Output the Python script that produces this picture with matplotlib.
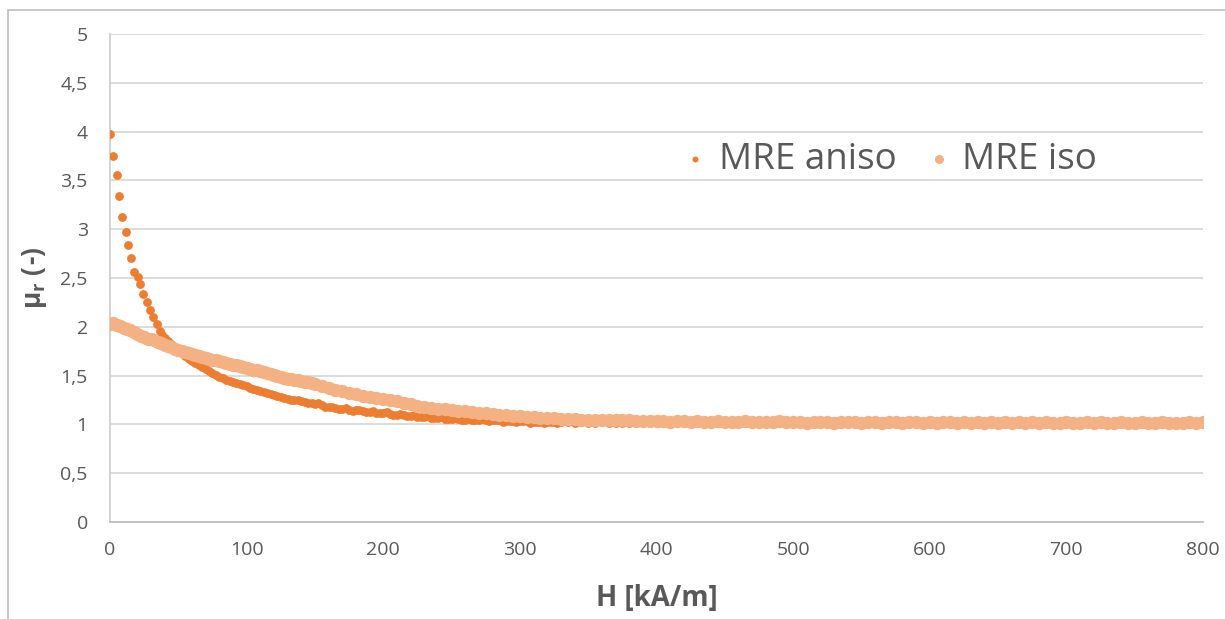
import numpy as np
import matplotlib.pyplot as plt
from matplotlib.patches import Rectangle
from matplotlib.ticker import FuncFormatter

plt.rcParams['font.family'] = ['Open Sans', 'DejaVu Sans']
plt.rcParams['mathtext.fontset'] = 'custom'
plt.rcParams['mathtext.rm'] = 'Open Sans'
plt.rcParams['mathtext.bf'] = 'Open Sans:bold'

# steep start of the anisotropic sample, points still separated
H_ANISO_START = [0, 2.4, 4.9, 6.8, 9.0, 11.5, 13.4, 15.6, 17.8, 20.2, 22.0,
                 24.4, 26.9, 29.3, 31.7, 34.1, 36.5, 38.3]
MU_ANISO_START = [3.98, 3.75, 3.56, 3.34, 3.13, 2.97, 2.84, 2.71, 2.56, 2.51, 2.44,
                  2.34, 2.25, 2.17, 2.10, 2.03, 1.96, 1.92]

# extra anisotropic readings between the sweep steps (knee region)
H_ANISO_EXTRA = [152.5, 157.5, 162.5, 167.5, 172.5, 177.5, 182.5, 187.5, 192.5, 197.5,
                 202.5, 207.5, 212.5, 217.5, 222.5, 227.5, 232.5, 237.5, 242.5, 247.5,
                 252.5, 257.5, 262.5, 267.5, 272.5, 277.5, 282.5, 287.5, 292.5, 297.5,
                 302.5, 307.5, 312.5, 317.5, 322.5, 327.5]
MU_ANISO_EXTRA = [1.218, 1.182, 1.183, 1.157, 1.163, 1.142, 1.148, 1.127, 1.133, 1.112,
                  1.123, 1.097, 1.108, 1.087, 1.093, 1.072, 1.083, 1.062, 1.073, 1.052,
                  1.068, 1.047, 1.058, 1.042, 1.053, 1.032, 1.048, 1.027, 1.038, 1.022,
                  1.038, 1.017, 1.028, 1.012, 1.028, 1.012]

# start of the isotropic sample
H_ISO_START = [0, 2.5, 5, 7.5, 10, 12.5, 15, 17.5, 20, 22.5, 25, 27.5, 30, 32.5, 35, 37.5]
MU_ISO_START = [2.03, 2.04, 2.02, 2.01, 1.99, 1.98, 1.97, 1.95, 1.93, 1.91, 1.90,
                1.88, 1.87, 1.86, 1.84, 1.83]

# common field sweep for both samples
H_SWEEP = [40, 42.5, 45, 47.5, 50, 52.5, 55, 57.5, 60, 62.5, 65, 67.5, 70, 72.5, 75,
           77.5, 80, 82.5, 85, 87.5, 90, 92.5, 95, 97.5, 100, 102.5, 105, 107.5, 110,
           112.5, 115, 117.5, 120, 122.5, 125, 127.5, 130, 132.5, 135, 137.5, 140,
           142.5, 145, 147.5,
           150, 155, 160, 165, 170, 175, 180, 185, 190, 195, 200, 205, 210, 215, 220,
           225, 230, 235, 240, 245, 250, 255, 260, 265, 270, 275, 280, 285, 290, 295,
           300, 305, 310, 315, 320, 325, 330, 335, 340, 345, 350, 355, 360, 365, 370,
           375, 380, 385, 390, 395, 400, 405, 410, 415, 420, 425, 430, 435, 440, 445,
           450, 455, 460, 465, 470, 475, 480, 485, 490, 495, 500, 505, 510, 515, 520,
           525, 530, 535, 540, 545, 550, 555, 560, 565, 570, 575, 580, 585, 590, 595,
           600, 605, 610, 615, 620, 625, 630, 635, 640, 645, 650, 655, 660, 665, 670,
           675, 680, 685, 690, 695, 700, 705, 710, 715, 720, 725, 730, 735, 740, 745,
           750, 755, 760, 765, 770, 775, 780, 785, 790, 795, 800]

MU_ANISO_SWEEP = [1.89, 1.85, 1.82, 1.79, 1.76, 1.73, 1.70, 1.67, 1.65, 1.63, 1.61, 1.59,
                  1.57, 1.55, 1.53, 1.51, 1.49, 1.475, 1.46, 1.445, 1.43, 1.42, 1.41, 1.40,
                  1.39, 1.375, 1.36, 1.35, 1.34, 1.33, 1.32, 1.31, 1.30, 1.29, 1.28, 1.27,
                  1.26, 1.255, 1.25, 1.245, 1.24, 1.23, 1.22, 1.215,
                  1.21, 1.20,
                  1.18, 1.17, 1.16, 1.15, 1.15, 1.14, 1.13, 1.12, 1.12, 1.11, 1.10, 1.10,
                  1.09, 1.08, 1.08, 1.07, 1.07, 1.06, 1.06, 1.06, 1.05, 1.05, 1.05, 1.04,
                  1.04, 1.04, 1.03, 1.03, 1.03, 1.03, 1.02, 1.025, 1.02, 1.02, 1.02, 1.02,
                  1.015, 1.02, 1.015, 1.015, 1.02, 1.015, 1.01, 1.015, 1.01, 1.015, 1.015, 1.01,
                  1.015, 1.01, 1.02, 1.015, 1.01, 1.015, 1.02, 1.01, 1.015, 1.01, 1.015, 1.02,
                  1.01, 1.015, 1.01, 1.02, 1.015, 1.01, 1.015, 1.01, 1.02, 1.015, 1.01, 1.015,
                  1.01, 1.02, 1.015, 1.01, 1.015, 1.02, 1.01, 1.015, 1.01, 1.015, 1.02, 1.01,
                  1.015, 1.01, 1.02, 1.015, 1.01, 1.015, 1.01, 1.02, 1.015, 1.01, 1.015, 1.01,
                  1.02, 1.015, 1.01, 1.015, 1.02, 1.01, 1.015, 1.01, 1.015, 1.02, 1.01, 1.015,
                  1.01, 1.02, 1.015, 1.01, 1.015, 1.01, 1.02, 1.015, 1.01, 1.015, 1.02, 1.01,
                  1.015, 1.025, 1.01, 1.015, 1.02, 1.01, 1.015, 1.01, 1.015]

MU_ISO_SWEEP = [1.81, 1.80, 1.79, 1.77, 1.76, 1.75, 1.74, 1.73, 1.72, 1.71, 1.70, 1.69,
                1.68, 1.67, 1.66, 1.655, 1.65, 1.64, 1.63, 1.62, 1.61, 1.605, 1.60, 1.59,
                1.58, 1.57, 1.56, 1.555, 1.55, 1.54, 1.53, 1.52, 1.51, 1.50, 1.49, 1.48,
                1.47, 1.465, 1.46, 1.45, 1.44, 1.435, 1.43, 1.42,
                1.41, 1.39,
                1.37, 1.35, 1.34, 1.32, 1.31, 1.29, 1.28, 1.27, 1.26, 1.25, 1.24, 1.22,
                1.21, 1.19, 1.18, 1.17, 1.16, 1.16, 1.15, 1.14, 1.14, 1.13, 1.12, 1.12,
                1.11, 1.10, 1.10, 1.09, 1.09, 1.08, 1.08, 1.07, 1.07, 1.07, 1.06, 1.06,
                1.06, 1.05, 1.05, 1.05, 1.04, 1.04, 1.04, 1.04, 1.04, 1.03, 1.03, 1.035,
                1.03, 1.03, 1.025, 1.03, 1.03, 1.025, 1.03, 1.02, 1.025, 1.03, 1.025, 1.02,
                1.025, 1.03, 1.02, 1.025, 1.02, 1.025, 1.03, 1.02, 1.025, 1.02, 1.015, 1.025,
                1.02, 1.025, 1.015, 1.02, 1.025, 1.02, 1.015, 1.02, 1.025, 1.015, 1.02, 1.02,
                1.015, 1.02, 1.025, 1.015, 1.02, 1.015, 1.02, 1.025, 1.015, 1.02, 1.01, 1.02,
                1.015, 1.02, 1.015, 1.025, 1.015, 1.02, 1.01, 1.02, 1.015, 1.02, 1.015, 1.01,
                1.02, 1.015, 1.01, 1.02, 1.015, 1.02, 1.01, 1.015, 1.02, 1.015, 1.01, 1.02,
                1.015, 1.01, 1.02, 1.015, 1.01, 1.015, 1.02, 1.015, 1.02]

Y_TICKS = [0, 0.5, 1, 1.5, 2, 2.5, 3, 3.5, 4, 4.5, 5]
X_TICKS = [0, 100, 200, 300, 400, 500, 600, 700, 800]

ANISO_COLOR = '#ED7D31'
ISO_COLOR = '#F4B183'
TEXT_COLOR = '#595959'

h_aniso = H_ANISO_START + H_SWEEP + H_ANISO_EXTRA
mu_aniso = MU_ANISO_START + MU_ANISO_SWEEP + MU_ANISO_EXTRA
h_iso = H_ISO_START + H_SWEEP
mu_iso = MU_ISO_START + MU_ISO_SWEEP

W, H = 1225, 619
fig = plt.figure(figsize=(W / 100, H / 100), dpi=100)

# chart area border (runs off the right and bottom edge)
fig.patches.append(Rectangle((8 / W, -0.1), 1.2, 1 - 10 / H + 0.1,
                             transform=fig.transFigure, fill=False,
                             edgecolor='#bfbfbf', lw=1.2))

ax = fig.add_axes([110 / W, 1 - 522 / H, 1093 / W, 488 / H])

ax.scatter(h_aniso, mu_aniso, s=40, color=ANISO_COLOR, lw=0, label='MRE aniso', zorder=3)
ax.scatter(h_iso, mu_iso, s=92, color=ISO_COLOR, lw=0, label='MRE iso', zorder=4)

ax.set_xlim(0, 800)
ax.set_ylim(0, 5)
ax.set_xticks(X_TICKS)
ax.set_yticks(Y_TICKS)
ax.yaxis.set_major_formatter(FuncFormatter(lambda v, p: f'{v:g}'.replace('.', ',')))
ax.yaxis.grid(True, color='#d9d9d9', lw=1.3)
ax.set_axisbelow(True)

for side in ('top', 'right'):
    ax.spines[side].set_visible(False)
ax.spines['left'].set_color('#d0d0d0')
ax.spines['bottom'].set_color('#bfbfbf')
ax.spines['left'].set_linewidth(1.3)
ax.spines['bottom'].set_linewidth(1.3)

ax.tick_params(axis='both', length=0, labelsize=14, labelcolor=TEXT_COLOR)
ax.tick_params(axis='y', pad=16)
ax.tick_params(axis='x', pad=14)

ax.set_xlabel('H [kA/m]', fontsize=20, fontweight='bold', color=TEXT_COLOR, labelpad=18)
ax.set_ylabel(r'μ$_\mathbf{r}$ (-)', fontsize=19, fontweight='bold', color=TEXT_COLOR, labelpad=8)

ax.legend(loc='center', bbox_to_anchor=(0.711, 0.742), ncol=2, frameon=False,
          fontsize=26.5, labelcolor=TEXT_COLOR, markerscale=0.68,
          handlelength=1.0, handletextpad=0.14, columnspacing=0.65)

fig.savefig('out.png', dpi=100)
